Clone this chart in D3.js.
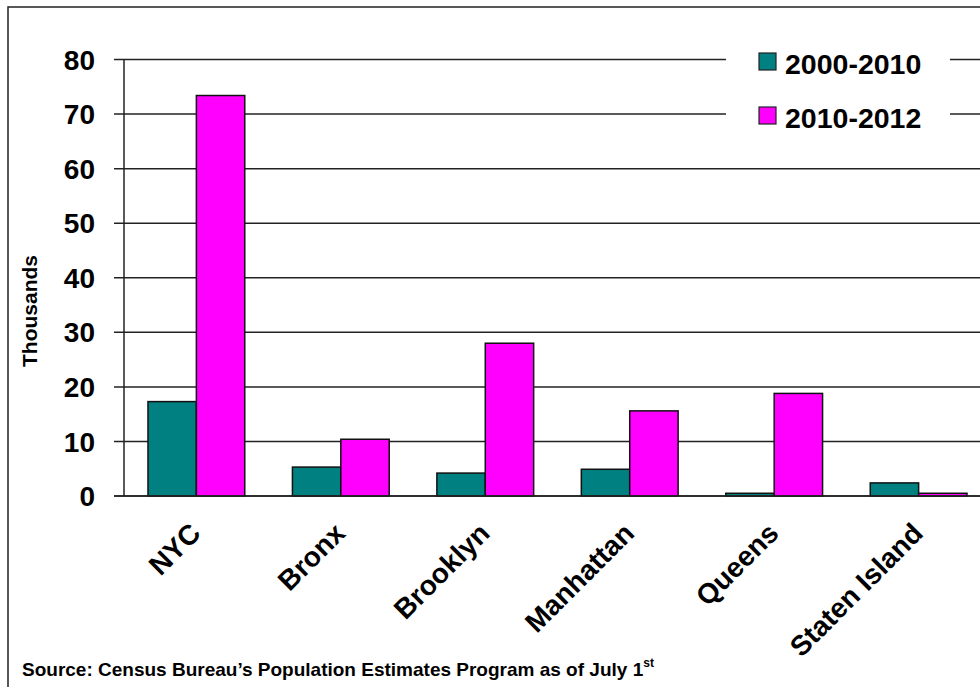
<!DOCTYPE html>
<html>
<head>
<meta charset="utf-8">
<script src="https://cdn.jsdelivr.net/npm/d3@7"></script>
<style>
  body { margin: 0; background: #fff; }
  text { font-family: "Liberation Sans", Arial, sans-serif; font-weight: bold; fill: #000; }
</style>
</head>
<body>
<div id="chart"></div>
<script>
const boroughs = ["NYC", "Bronx", "Brooklyn", "Manhattan", "Queens", "Staten Island"];
const seriesNames = ["2000-2010", "2010-2012"];
const growth2000 = [17.3, 5.3, 4.2, 4.9, 0.5, 2.4];
const growth2010 = [73.4, 10.4, 28.0, 15.6, 18.8, 0.5];
const yTicks = [0, 10, 20, 30, 40, 50, 60, 70, 80];
const colors = ["#008080", "#ff00ff"];

const W = 980, H = 687;
const margin = {top: 59.5, left: 124, bottom: 191};
const plotRight = 991;
const height = H - margin.top - margin.bottom;  // y=0 at ~496

const svg = d3.select("#chart").append("svg")
    .attr("width", W)
    .attr("height", H);

// outer frame
svg.append("rect")
    .attr("x", 8).attr("y", 7)
    .attr("width", 990).attr("height", 700)
    .attr("fill", "none")
    .attr("stroke", "#222")
    .attr("stroke-width", 1.5);

const x0 = d3.scaleBand().domain(boroughs)
    .range([margin.left, plotRight])
    .paddingInner(0.33).paddingOuter(0.166);
const x1 = d3.scaleBand().domain(seriesNames).range([0, x0.bandwidth()]);
const y = d3.scaleLinear().domain([0, 80]).range([margin.top + height, margin.top]);

// gridlines + tick marks
svg.append("g")
    .selectAll("line")
    .data(yTicks)
    .enter().append("line")
    .attr("x1", margin.left - 10)
    .attr("x2", W)
    .attr("y1", d => y(d))
    .attr("y2", d => y(d))
    .attr("stroke", "#222")
    .attr("stroke-width", 1.5);

// y axis line
svg.append("line")
    .attr("x1", margin.left).attr("x2", margin.left)
    .attr("y1", y(80)).attr("y2", y(0))
    .attr("stroke", "#222").attr("stroke-width", 1.5);

// tick labels
svg.append("g")
    .selectAll("text")
    .data(yTicks)
    .enter().append("text")
    .attr("x", 95)
    .attr("y", d => y(d))
    .attr("dy", "0.36em")
    .attr("text-anchor", "end")
    .style("font-size", "28px")
    .text(d => d);

svg.append("text")
    .attr("transform", "translate(37,311) rotate(-90)")
    .attr("text-anchor", "middle")
    .style("font-size", "21px")
    .text("Thousands");

// bars
const rows = boroughs.map((b, i) => ({name: b, values: [growth2000[i], growth2010[i]]}));

const groups = svg.append("g")
    .selectAll("g")
    .data(rows)
    .enter().append("g")
    .attr("transform", d => `translate(${x0(d.name)},0)`);

groups.selectAll("rect")
    .data(d => d.values.map((v, j) => ({key: seriesNames[j], value: v, j: j})))
    .enter().append("rect")
    .attr("x", d => x1(d.key))
    .attr("y", d => y(d.value))
    .attr("width", x1.bandwidth())
    .attr("height", d => y(0) - y(d.value))
    .attr("fill", d => colors[d.j])
    .attr("stroke", "#111")
    .attr("stroke-width", 1.5);

// x axis line on top of bars
svg.append("line")
    .attr("x1", margin.left - 10).attr("x2", W)
    .attr("y1", y(0)).attr("y2", y(0))
    .attr("stroke", "#222").attr("stroke-width", 1.5);

// category labels
svg.append("g")
    .selectAll("text")
    .data(boroughs)
    .enter().append("text")
    .attr("transform", d => `translate(${x0(d) + x0.bandwidth() / 2 + 6},${y(0) + 39}) rotate(-45)`)
    .attr("text-anchor", "end")
    .style("font-size", "28px")
    .text(d => d);

// legend
const legend = svg.append("g").attr("transform", "translate(726,36)");
legend.append("rect")
    .attr("width", 224).attr("height", 100)
    .attr("fill", "#fff");

const items = legend.selectAll(".legend")
    .data(seriesNames)
    .enter().append("g")
    .attr("class", "legend")
    .attr("transform", (d, i) => `translate(0,${i * 54})`);

items.append("rect")
    .attr("x", 33).attr("y", 17)
    .attr("width", 17).attr("height", 17)
    .attr("fill", (d, i) => colors[i])
    .attr("stroke", "#222")
    .attr("stroke-width", 1.2);

items.append("text")
    .attr("x", 59)
    .attr("y", 38)
    .style("font-size", "28.5px")
    .text(d => d);

// source note
const src = svg.append("text")
    .attr("x", 22)
    .attr("y", 676)
    .style("font-size", "19px");
src.append("tspan").text("Source: Census Bureau\u2019s Population Estimates Program as of July 1");
src.append("tspan")
    .attr("dy", -9)
    .style("font-size", "12px")
    .text("st");
</script>
</body>
</html>
